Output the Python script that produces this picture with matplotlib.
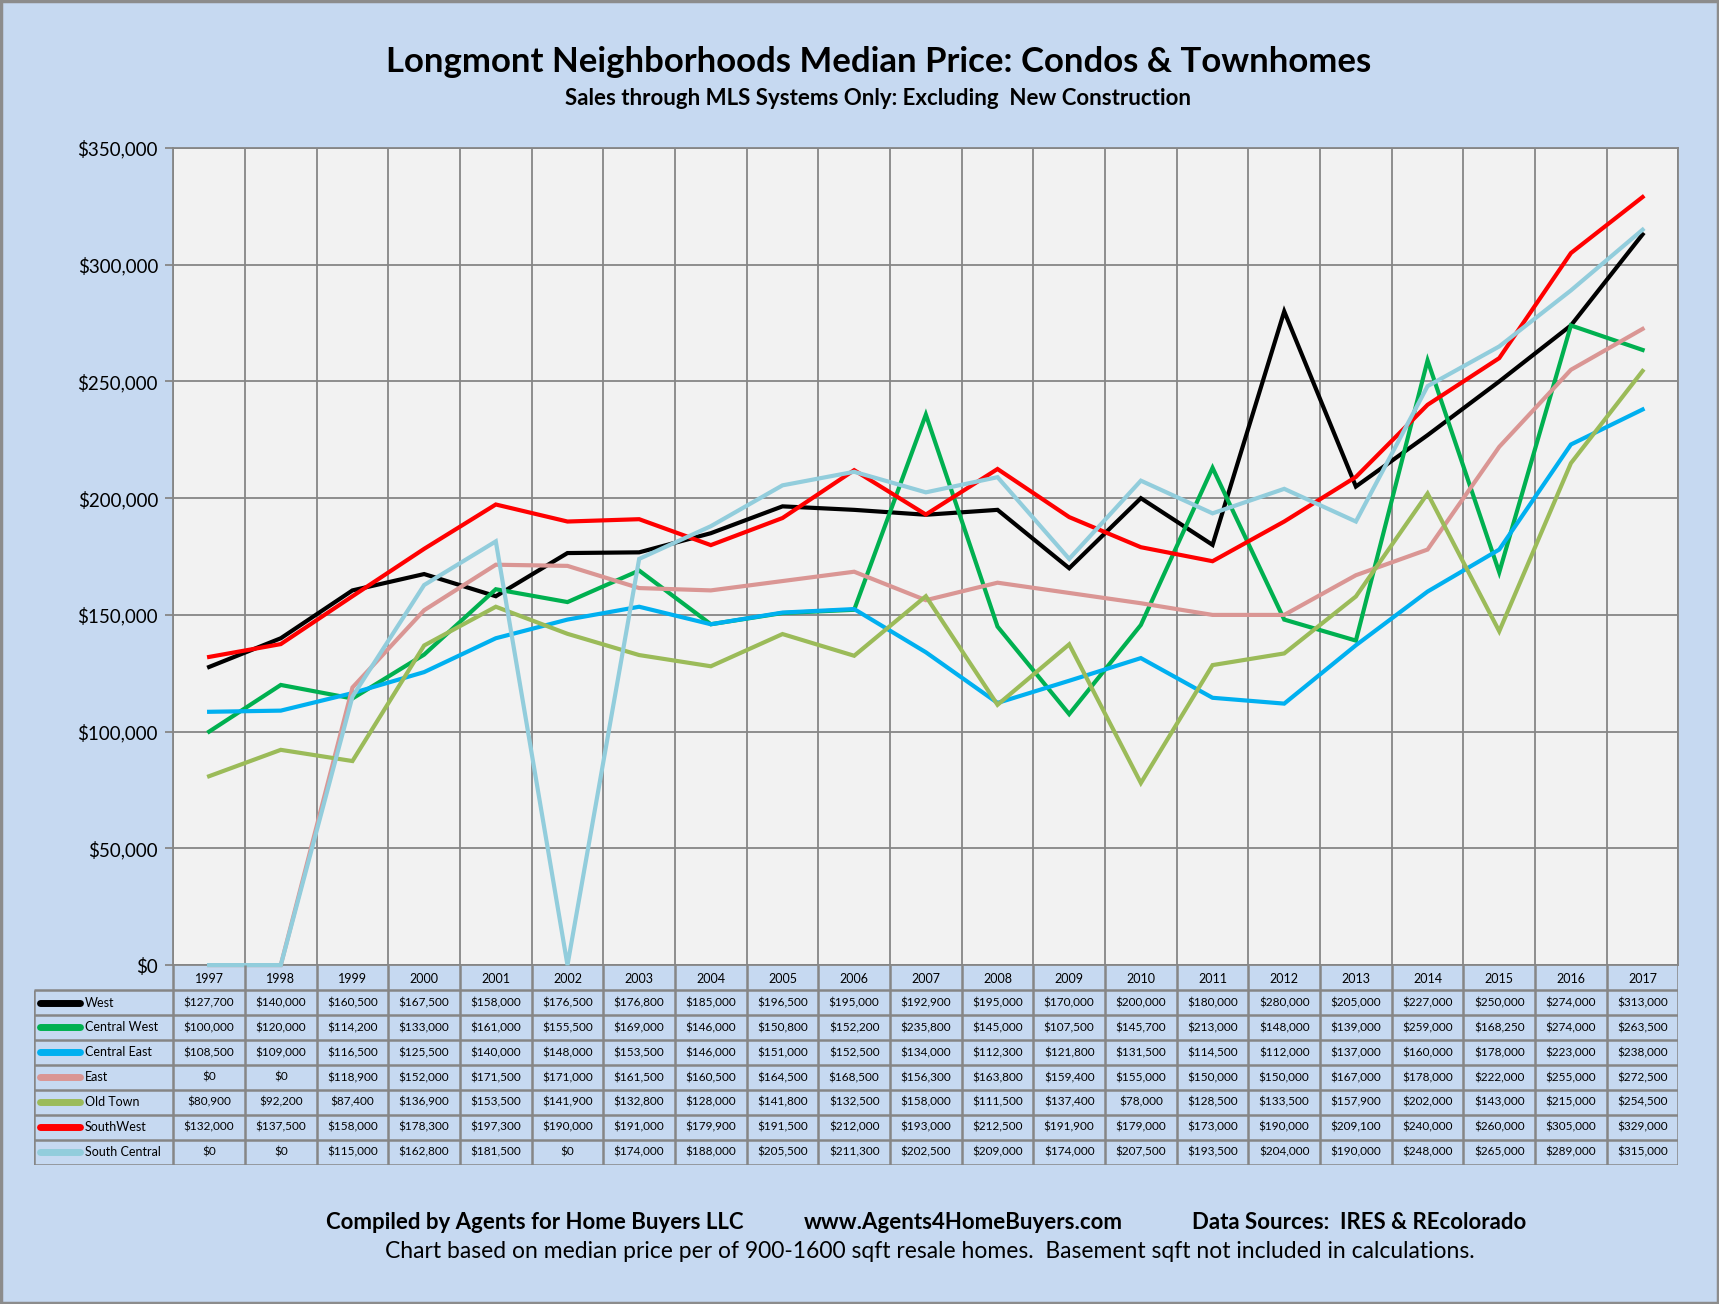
import matplotlib
matplotlib.use("Agg")
import matplotlib.pyplot as plt
from matplotlib.patches import Rectangle
import numpy as np

plt.rcParams['font.family'] = ['Lato', 'DejaVu Sans']

years = [str(y) for y in range(1997, 2018)]
series_names = ["West", "Central West", "Central East", "East", "Old Town", "SouthWest", "South Central"]
west = [127700, 140000, 160500, 167500, 158000, 176500, 176800, 185000, 196500, 195000, 192900,
        195000, 170000, 200000, 180000, 280000, 205000, 227000, 250000, 274000, 313000]
central_west = [100000, 120000, 114200, 133000, 161000, 155500, 169000, 146000, 150800, 152200, 235800,
                145000, 107500, 145700, 213000, 148000, 139000, 259000, 168250, 274000, 263500]
central_east = [108500, 109000, 116500, 125500, 140000, 148000, 153500, 146000, 151000, 152500, 134000,
                112300, 121800, 131500, 114500, 112000, 137000, 160000, 178000, 223000, 238000]
east = [0, 0, 118900, 152000, 171500, 171000, 161500, 160500, 164500, 168500, 156300,
        163800, 159400, 155000, 150000, 150000, 167000, 178000, 222000, 255000, 272500]
old_town = [80900, 92200, 87400, 136900, 153500, 141900, 132800, 128000, 141800, 132500, 158000,
            111500, 137400, 78000, 128500, 133500, 157900, 202000, 143000, 215000, 254500]
southwest = [132000, 137500, 158000, 178300, 197300, 190000, 191000, 179900, 191500, 212000, 193000,
             212500, 191900, 179000, 173000, 190000, 209100, 240000, 260000, 305000, 329000]
south_central = [0, 0, 115000, 162800, 181500, 0, 174000, 188000, 205500, 211300, 202500,
                 209000, 174000, 207500, 193500, 204000, 190000, 248000, 265000, 289000, 315000]
series_values = [west, central_west, central_east, east, old_town, southwest, south_central]
colors = ["#000000", "#00B050", "#00B0F0", "#DA9694", "#9BBB59", "#FF0000", "#92CDDC"]
y_ticks = [0, 50000, 100000, 150000, 200000, 250000, 300000, 350000]

title = "Longmont Neighborhoods Median Price: Condos & Townhomes"
subtitle = "Sales through MLS Systems Only: Excluding  New Construction"
footer1 = ["Compiled by Agents for Home Buyers LLC", "www.Agents4HomeBuyers.com", "Data Sources:  IRES & REcolorado"]
footer2 = "Chart based on median price per of 900-1600 sqft resale homes.  Basement sqft not included in calculations."

BG = "#C6D9F1"
GRID = "#868686"

fig = plt.figure(figsize=(17.19, 13.04), dpi=100, facecolor=BG)

pl, pr, pb, pt = 0.1008, 0.9764, 0.2599, 0.8865
tb, tl = 0.1068, 0.0198
n = len(years)
ax = fig.add_axes([pl, pb, pr - pl, pt - pb])
ax.set_facecolor("#F2F2F2")
ax.set_xlim(-0.5, n - 0.5)
ax.set_ylim(0, 350000)
ax.set_xticks(np.arange(-0.5, n, 1.0))
ax.set_xticklabels([])
ax.tick_params(axis='x', length=0)
ax.set_yticks(y_ticks)
ax.set_yticklabels([f"${v:,}" for v in y_ticks], fontsize=13.5)
ax.tick_params(axis='y', length=6, width=1.3, color=GRID, pad=5)
ax.grid(True, color=GRID, linewidth=1.3)
ax.set_axisbelow(True)
for s in ax.spines.values():
    s.set_color(GRID)
    s.set_linewidth(1.3)

x = np.arange(n)
for name, vals, c in zip(series_names, series_values, colors):
    ax.plot(x, vals, color=c, linewidth=3.0, solid_joinstyle='miter', clip_on=False, zorder=3)

# data table
wl = (pl - tl) / ((pr - pl) / n)
tax = fig.add_axes([tl, tb, pr - tl, pb - tb])
tax.set_xlim(-0.5 - wl, n - 0.5)
tax.set_ylim(0, 8)
tax.axis('off')
xl = -0.5 - wl
lk = dict(color=GRID, linewidth=1.8, solid_capstyle='butt')
for yy in range(0, 8):
    tax.plot([xl, n - 0.5], [yy, yy], **lk)
for b in np.arange(-0.5, n, 1.0):
    tax.plot([b, b], [0, 8], **lk)
tax.plot([xl, xl], [0, 7], **lk)
for i, yr in enumerate(years):
    tax.text(i, 7.45, yr, ha='center', va='center', fontsize=9)
for r, (name, vals, c) in enumerate(zip(series_names, series_values, colors)):
    yc = 6.5 - r
    tax.plot([xl + 0.08, xl + 0.64], [yc, yc], color=c, linewidth=5, solid_capstyle='round')
    tax.text(xl + 0.71, yc, name, ha='left', va='center', fontsize=9)
    for i, v in enumerate(vals):
        tax.text(i, yc, f"${v:,}", ha='center', va='center', fontsize=8.5)

fig.text(0.511, 0.9525, title, ha='center', va='center', fontsize=25, fontweight='bold')
fig.text(0.5105, 0.9245, subtitle, ha='center', va='center', fontsize=16, fontweight='bold')
for xx, t in zip([0.1894, 0.4675, 0.6932], footer1):
    fig.text(xx, 0.0622, t, ha='left', va='center', fontsize=16, fontweight='bold')
fig.text(0.541, 0.0404, footer2, ha='center', va='center', fontsize=16.5)

fig.add_artist(Rectangle((0.0008, 0.001), 0.9984, 0.998, transform=fig.transFigure,
                         fill=False, edgecolor="#8C8C8C", linewidth=2.5))

fig.savefig("out.png", dpi=100, facecolor=BG)
